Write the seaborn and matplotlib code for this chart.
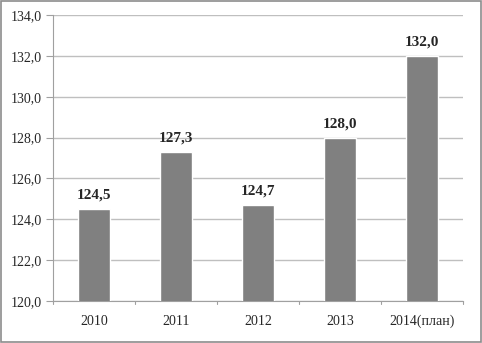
import matplotlib
matplotlib.use("Agg")
import matplotlib.pyplot as plt
import seaborn as sns
import pandas as pd
from matplotlib.patches import Rectangle

years = ["2010", "2011", "2012", "2013", "2014(план)"]
values = [124.5, 127.3, 124.7, 128.0, 132.0]
y_ticks = [120, 122, 124, 126, 128, 130, 132, 134]

df = pd.DataFrame({"year": years, "value": values})

sns.set_style("white")
plt.rcParams["font.family"] = ["Liberation Serif", "DejaVu Serif"]

fig = plt.figure(figsize=(4.82, 3.43), dpi=100)
ax = fig.add_axes([53 / 482, 1 - 301 / 343, 410 / 482, 286 / 343])

sns.barplot(data=df, x="year", y="value", color="#808080", saturation=1,
            width=0.39, ax=ax, zorder=3)

ax.set_ylim(120, 134)
ax.set_xlim(-0.5, len(years) - 0.5)
ax.set_yticks(y_ticks)
ax.set_yticklabels([f"{v:.1f}".replace(".", ",") for v in y_ticks], fontsize=10)
ax.tick_params(axis="x", length=0, pad=10, labelsize=10)
ax.tick_params(axis="y", length=5, width=0.8, color="#a0a0a0", pad=3, left=True)
ax.yaxis.grid(True, color="#bfbfbf", linewidth=1, zorder=0)
ax.set_axisbelow(True)
ax.set_xlabel("")
ax.set_ylabel("")

for side in ["top", "right"]:
    ax.spines[side].set_visible(False)
for side in ["left", "bottom"]:
    ax.spines[side].set_color("#a0a0a0")
    ax.spines[side].set_linewidth(0.8)

# category separator ticks on the x axis
for i in range(len(years) + 1):
    ax.plot([i - 0.5, i - 0.5], [0, -0.012], transform=ax.get_xaxis_transform(),
            color="#a0a0a0", linewidth=0.8, clip_on=False)

for i, v in enumerate(values):
    ax.text(i, v + 0.35, f"{v:.1f}".replace(".", ","), ha="center", va="bottom",
            fontsize=11, fontweight="bold")

fig.patches.append(Rectangle((0.002, 0.003), 0.995, 0.994, transform=fig.transFigure,
                             fill=False, edgecolor="#8c8c8c", linewidth=1.2))

fig.savefig("out.png", dpi=100)
